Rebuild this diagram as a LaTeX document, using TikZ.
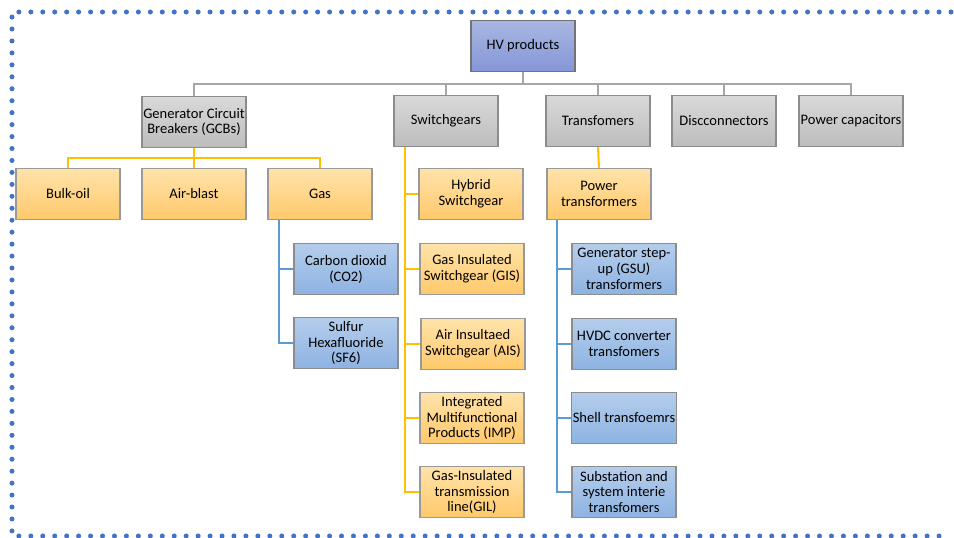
\documentclass[tikz,border=0pt]{standalone}
\usepackage{fontspec}
\setmainfont{Carlito}
\definecolor{hvtop}{HTML}{AAB6E2}
\definecolor{hvbot}{HTML}{8496D6}
\definecolor{graytop}{HTML}{D9D9D9}
\definecolor{graybot}{HTML}{BDBDBD}
\definecolor{yeltop}{HTML}{FFE3AA}
\definecolor{yelbot}{HTML}{FFC96B}
\definecolor{blutop}{HTML}{B5CDEC}
\definecolor{blubot}{HTML}{8DB3E2}
\definecolor{yline}{HTML}{FFC000}
\definecolor{bline}{HTML}{5B9BD5}
\definecolor{gline}{HTML}{A6A6A6}
\definecolor{frame}{HTML}{4472C4}
\begin{document}
\begin{tikzpicture}[x=0.03cm, y=-0.03cm,
  every node/.style={font=\fontsize{12.4}{13.6}\selectfont, align=center, inner xsep=1pt,
    minimum width=3.12cm, minimum height=1.53cm, line width=0.9pt},
  hvbox/.style={draw=black!55, top color=hvtop, bottom color=hvbot},
  graybox/.style={draw=black!45, top color=graytop, bottom color=graybot},
  yelbox/.style={draw=black!40, top color=yeltop, bottom color=yelbot},
  blubox/.style={draw=black!45, top color=blutop, bottom color=blubot},
  grayline/.style={draw=gline, line width=1.7pt},
  yelline/.style={draw=yline, line width=1.7pt},
  bluline/.style={draw=bline, line width=1.7pt}]
	\useasboundingbox (0,0) rectangle (954,538);
	% 1. dotted frame (open on the right)
	\draw[frame, line width=4.3pt, line cap=round, dash pattern=on 0pt off 10.2pt]
		(951,12) -- (12,12) -- (12,536) -- (946,536);

	% 2. top levels
	\node[hvbox] (hv) at (523,46) {HV products};
	\node[graybox] (gcb) at (194,122) {Generator Circuit\\Breakers (GCBs)};
	\node[graybox] (sw) at (446,121) {Switchgears};
	\node[graybox] (tr) at (598,121) {Transfomers};
	\node[graybox] (dis) at (724,121) {Discconnectors};
	\node[graybox] (cap) at (851,121) {Power capacitors};

	% 3. breakers
	\node[yelbox] (oil) at (68,194) {Bulk-oil};
	\node[yelbox] (air) at (194,194) {Air-blast};
	\node[yelbox] (gas) at (320,194) {Gas};
	\node[blubox] (co2) at (346,269) {Carbon dioxid\\(CO2)};
	\node[blubox] (sf6) at (346,343) {Sulfur\\Hexafluoride\\(SF6)};

	% 4. switchgears
	\node[yelbox] (hyb) at (471,194) {Hybrid\\Switchgear};
	\node[yelbox] (gis) at (472,269) {Gas Insulated\\Switchgear (GIS)};
	\node[yelbox] (ais) at (473,344) {Air Insultaed\\Switchgear (AIS)};
	\node[yelbox] (imp) at (472,418) {Integrated\\Multifunctional\\Products (IMP)};
	\node[yelbox] (gil) at (472,492) {Gas-Insulated\\transmission\\line(GIL)};

	% 5. transformers
	\node[yelbox] (ptr) at (599,194) {Power\\transformers};
	\node[blubox] (gsu) at (624,269) {Generator step-\\up (GSU)\\transformers};
	\node[blubox] (hvdc) at (624,344) {HVDC converter\\transfomers};
	\node[blubox] (shell) at (624,418) {Shell transfoemrs};
	\node[blubox] (sub) at (624,492) {Substation and\\system interie\\transfomers};

	% 6. connectors
	\coordinate (hvbus) at (523,84);
	\coordinate (gcbbus) at (194,158);
	\coordinate (gasspine) at (279,343);
	\coordinate (swspine) at (405,492);
	\coordinate (ptrspine) at (557,492);

	\draw[grayline] (hv.south) -- (hvbus);
	\draw[grayline] (gcb.north) |- (hvbus) -| (cap.north);
	\foreach \n in {sw,tr,dis} \draw[grayline] (\n.north) -- (\n.north |- hvbus);

	\draw[yelline] (gcb.south) -- (gcbbus);
	\draw[yelline] (oil.north) |- (gcbbus) -| (gas.north);
	\draw[yelline] (air.north) -- (air.north |- gcbbus);

	\draw[bluline] (gas.south -| gasspine) -- (gasspine) -- (sf6.west);
	\draw[bluline] (co2.west) -- (co2.west -| gasspine);

	\draw[yelline] (sw.south -| swspine) -- (swspine) -- (gil.west);
	\foreach \n in {hyb,gis,ais,imp} \draw[yelline] (\n.west) -- (\n.west -| swspine);

	\draw[yelline] (tr.south) -- (ptr.north);
	\draw[bluline] (ptr.south -| ptrspine) -- (ptrspine) -- (sub.west);
	\foreach \n in {gsu,hvdc,shell} \draw[bluline] (\n.west) -- (\n.west -| ptrspine);
\end{tikzpicture}
\end{document}
